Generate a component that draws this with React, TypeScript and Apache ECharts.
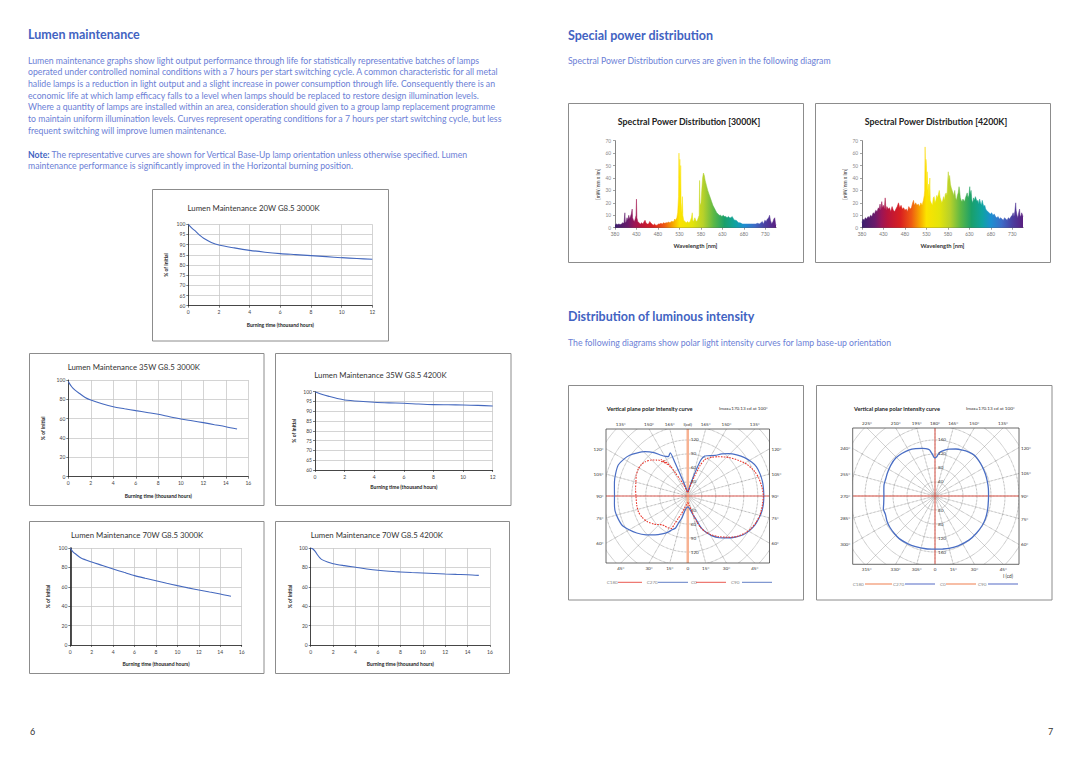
import React, { useEffect, useRef } from 'react';
import * as echarts from 'echarts';

const FONT = 'Lato, "Open Sans", "DejaVu Sans", sans-serif';

// ---------------- Page texts ----------------
const HEAD_LEFT = 'Lumen maintenance';
const PARA = [
  'Lumen maintenance graphs show light output performance through life for statistically representative batches of lamps',
  'operated under controlled nominal conditions with a 7 hours per start switching cycle. A common characteristic for all metal',
  'halide lamps is a reduction in light output and a slight increase in power consumption through life. Consequently there is an',
  'economic life at which lamp efficacy falls to a level when lamps should be replaced to restore design illumination levels.',
  'Where a quantity of lamps are installed within an area, consideration should given to a group lamp replacement programme',
  'to maintain uniform illumination levels. Curves represent operating conditions for a 7 hours per start switching cycle, but less',
  'frequent switching will improve lumen maintenance.',
];
const NOTE_LABEL = 'Note:';
const NOTE = [
  ' The representative curves are shown for Vertical Base-Up lamp orientation unless otherwise specified. Lumen',
  'maintenance performance is significantly improved in the Horizontal burning position.',
];
const HEAD_SPD = 'Special power distribution';
const SPD_INTRO = 'Spectral Power Distribution curves are given in the following diagram';
const HEAD_POLAR = 'Distribution of luminous intensity';
const POLAR_INTRO = 'The following diagrams show polar light intensity curves for lamp base-up orientation';
const PAGE_NUMBERS = ['6', '7'];

// ---------------- Lumen maintenance ----------------
const LM_TITLES = [
  'Lumen Maintenance 20W G8.5 3000K',
  'Lumen Maintenance 35W G8.5 3000K',
  'Lumen Maintenance 35W G8.5 4200K',
  'Lumen Maintenance 70W G8.5 3000K',
  'Lumen Maintenance 70W G8.5 4200K',
];
const LM_X_NAME = 'Burning time (thousand hours)';
const LM_Y_NAME = '% of Initial';
// [thousand hours, % of initial]
const lm20w3000 = [[0, 100], [0.25, 98], [0.5, 96.4], [0.75, 94.6], [1, 93.1], [1.5, 91.1], [2, 89.8], [3, 88.4], [4, 87.2], [5, 86.3], [6, 85.6], [7, 85.1], [8, 84.6], [9, 84.1], [10, 83.6], [11, 83.2], [12, 82.8]];
const lm35w3000 = [[0, 98.3], [0.3, 93], [0.6, 89.5], [1, 86], [1.5, 82], [2, 79.3], [3, 75.5], [4, 72.4], [5, 70.3], [6, 68.3], [7, 66.4], [8, 64.5], [9, 62], [10, 59.7], [11, 57.8], [12, 55.9], [13, 53.8], [14, 51.7], [15, 49.3]];
const lm35w4200 = [[0, 100], [0.5, 98.6], [1, 97.5], [1.5, 96.5], [2, 95.8], [3, 95.1], [4, 94.6], [5, 94.3], [6, 94.1], [7, 93.7], [8, 93.4], [9, 93.3], [10, 93.2], [11, 93], [12, 92.7]];
const lm70w3000 = [[0, 100], [0.25, 96], [0.5, 93.8], [1, 89.7], [2, 85.6], [3, 82], [4, 78.4], [5, 74.9], [6, 71.5], [7, 68.8], [8, 66.3], [9, 63.7], [10, 61.2], [11, 58.9], [12, 56.7], [13, 54.6], [14, 52.6], [15, 50.2]];
const lm70w4200 = [[0, 100], [0.2, 99], [0.4, 96.5], [0.6, 93], [0.8, 90], [1, 88], [1.5, 85.6], [2, 83.8], [3, 81.8], [4, 80.1], [5, 78.4], [6, 77], [7, 76], [8, 75.3], [9, 74.7], [10, 74.2], [11, 73.7], [12, 73.2], [13, 72.8], [14, 72.5], [15, 71.8]];
const LM_DATA = [lm20w3000, lm35w3000, lm35w4200, lm70w3000, lm70w4200];
const LM_X_MAX = [12, 16, 12, 16, 16];
const LM_X_STEP = [2, 2, 2, 2, 2];
const LM_Y_MIN = [60, 0, 60, 0, 0];
const LM_Y_MAX = [100, 100, 100, 100, 100];
const LM_Y_STEP = [5, 20, 5, 20, 20];

// ---------------- Spectral power distribution ----------------
const SPD_TITLES = ['Spectral Power Distribution [3000K]', 'Spectral Power Distribution [4200K]'];
const SPD_X_NAME = 'Wavelength [nm]';
const SPD_Y_NAME = '[mW/nm x lm]';
const SPD_X_MIN = 380;
const SPD_X_MAX = 755;
const SPD_X_STEP = 50;
const SPD_Y_MAX = 70;
const SPD_Y_STEP = 10;
// [nm, mW/nm x lm]
const spd3000 = [[380, 2], [383, 3], [386, 2.5], [389, 3], [392, 2.5], [395, 3], [398, 4], [401, 3.5], [403, 12], [404, 4], [406, 5], [408, 8], [410, 6], [412, 10], [414, 7], [416, 9], [418, 11], [420, 15], [421, 8], [423, 6], [425, 5], [427, 7], [429, 10], [430, 23], [431, 8], [433, 5], [436, 4], [439, 3], [442, 4], [445, 3], [448, 5], [450, 6], [452, 4], [455, 3], [458, 3], [461, 5], [463, 4], [466, 3], [469, 2], [472, 3], [475, 2], [478, 2], [481, 3], [484, 3], [487, 3.5], [490, 3], [493, 4], [496, 3.5], [499, 4], [502, 4], [505, 4.5], [508, 4], [511, 5], [514, 5], [517, 5], [519, 7], [521, 6], [524, 8], [526, 12], [528, 25], [529, 60], [530, 40], [531, 55], [532, 30], [533, 50], [534, 20], [536, 12], [537, 25], [538, 10], [540, 6], [543, 5], [546, 4], [549, 5], [552, 4], [555, 5], [558, 8], [560, 12], [561, 6], [563, 5], [566, 8], [568, 6], [570, 5], [572, 6], [574, 8], [576, 10], [577, 38], [578, 20], [580, 18], [582, 30], [584, 40], [586, 44], [588, 42], [590, 38], [593, 34], [596, 30], [599, 27], [602, 24], [605, 21], [608, 18], [611, 16], [614, 14], [617, 12], [620, 11], [623, 10], [626, 10], [629, 9], [632, 10], [635, 9], [638, 9], [641, 8], [644, 9], [647, 8], [650, 8], [653, 9], [656, 7], [659, 6], [662, 6], [665, 5], [668, 4], [671, 4], [674, 3.5], [677, 3], [680, 3], [684, 3], [688, 3], [692, 3], [696, 3], [700, 3], [704, 3], [708, 3], [712, 3.5], [716, 3], [720, 4], [723, 5], [726, 3], [729, 6], [732, 5], [735, 7], [738, 8], [740, 10], [742, 6], [745, 3], [748, 5], [750, 7], [752, 8], [754, 3], [755, 2]];
const spd4200 = [[380, 4], [382, 7], [385, 6], [388, 8], [391, 7], [394, 9], [397, 8], [400, 10], [403, 9], [406, 12], [409, 11], [412, 14], [415, 13], [418, 16], [420, 15], [422, 19], [424, 14], [426, 21], [428, 16], [430, 18], [432, 15], [434, 24], [436, 14], [438, 17], [441, 15], [444, 16], [447, 13], [450, 17], [453, 14], [456, 13], [459, 15], [462, 17], [465, 20], [468, 16], [471, 18], [474, 15], [477, 16], [480, 14], [483, 15], [486, 13], [489, 17], [492, 15], [495, 16], [498, 20], [500, 22], [502, 18], [505, 20], [508, 18], [511, 19], [514, 17], [517, 20], [520, 18], [523, 22], [525, 26], [526, 30], [527, 65], [528, 45], [529, 55], [530, 50], [531, 35], [532, 45], [533, 30], [535, 35], [536, 25], [538, 40], [539, 22], [541, 20], [544, 18], [546, 24], [548, 25], [550, 20], [552, 22], [554, 26], [556, 24], [558, 27], [560, 30], [562, 24], [564, 22], [566, 20], [568, 22], [570, 25], [572, 22], [574, 27], [576, 28], [578, 26], [580, 40], [581, 45], [582, 38], [584, 42], [586, 35], [588, 32], [590, 30], [592, 28], [594, 26], [596, 30], [598, 24], [600, 22], [602, 26], [604, 28], [606, 33], [607, 31], [609, 24], [611, 22], [613, 21], [615, 23], [617, 22], [619, 21], [621, 24], [623, 26], [625, 28], [627, 24], [629, 26], [631, 33], [632, 27], [634, 30], [636, 22], [638, 20], [640, 24], [642, 22], [644, 25], [646, 23], [648, 21], [650, 22], [652, 19], [654, 23], [656, 20], [658, 18], [660, 22], [662, 19], [664, 17], [666, 18], [668, 15], [670, 14], [673, 13], [676, 12], [679, 11], [682, 12], [685, 10], [688, 11], [691, 9], [694, 8], [697, 9], [700, 7], [703, 8], [706, 7], [709, 6], [712, 8], [715, 7], [718, 6], [721, 8], [724, 7], [727, 9], [730, 10], [732, 12], [734, 9], [736, 13], [738, 20], [739, 14], [741, 10], [743, 8], [745, 12], [747, 15], [748, 10], [750, 9], [752, 12], [754, 10], [755, 9]];
const SPD_DATA = [spd3000, spd4200];
const SPD_COLORS = [
  [0, '#3b1f6e'], [0.08, '#6a1a6a'], [0.12, '#9a1557'], [0.16, '#b8143c'], [0.24, '#d92020'],
  [0.307, '#ee5a12'], [0.36, '#f7a800'], [0.4, '#fce300'], [0.48, '#e4e40a'], [0.547, '#b8d12a'],
  [0.613, '#5cb845'], [0.68, '#1aa06a'], [0.747, '#0fa3a0'], [0.8, '#1c8fd0'], [0.867, '#3c6cc8'],
  [0.933, '#4a3ea0'], [1, '#5a1f80'],
];

// ---------------- Polar intensity ----------------
const POLAR_TITLE = 'Vertical plane polar intensity curve';
const POLAR_IMAX = 'Imax=170.13 cd at 100°';
const POLAR_UNIT = 'I (cd)';
const LEGEND_NAMES = ['C180', 'C270', 'C0', 'C90'];
// label for each 15° spoke, counter-clockwise from the bottom
const POLAR_A_LABELS = ['0', '15°', '30°', '45°', '60°', '75°', '90°', '105°', '120°', '135°', '150°', '165°', 'I(cd)', '165°', '150°', '135°', '120°', '105°', '90°', '75°', '60°', '45°', '30°', '15°'];
const POLAR_B_LABELS = ['0', '15°', '30°', '45°', '60°', '75°', '90°', '105°', '120°', '135°', '150°', '165°', '180°', '195°', '210°', '225°', '240°', '255°', '270°', '285°', '300°', '315°', '330°', '305°'];
const POLAR_A_RINGS = [30, 60, 90, 120];
const POLAR_B_RINGS = [40, 80, 120, 160];
const POLAR_A_MAX = 240;
const POLAR_A_STEP = 30;
const POLAR_B_MAX = 320;
const POLAR_B_STEP = 40;
// [gamma angle in the half plane, cd]
const polarA_C0 = [[0, 14], [6, 16], [10, 22], [15, 35], [19, 58], [22, 72], [26, 85], [31, 97], [37, 109], [44, 123], [50, 136], [57, 146], [63, 153], [69, 157], [75, 160], [82, 161], [90, 162], [97, 160], [104, 157], [110, 153], [118, 144], [125, 133], [133, 121], [142, 107], [148, 98], [153, 90], [155, 86], [158, 71], [161, 45], [165, 25], [170, 12], [180, 8]];
const polarA_C180 = [[0, 14], [6, 16], [10, 20], [15, 28], [20, 42], [23, 52], [25, 65], [27, 78], [32, 80], [37, 81], [42, 83], [50, 94], [58, 103], [65, 108], [72, 111], [80, 111], [90, 111], [98, 113], [105, 115], [112, 119], [119, 121], [124, 120], [129, 117], [135, 109], [139, 102], [141, 99], [143, 92], [144, 97], [145, 86], [146, 92], [147, 80], [148, 86], [149, 72], [150, 76], [152, 55], [155, 40], [160, 25], [165, 15], [170, 10], [180, 8]];
const polarA_C90 = [[0, 23], [5, 25], [10, 30], [15, 40], [20, 55], [23, 75], [27, 88], [31, 99], [37, 112], [44, 125], [50, 136], [55, 145], [61, 152], [67, 157], [73, 160], [78, 162], [84, 163], [90, 163], [96, 163], [101, 163], [107, 162], [113, 160], [118, 155], [124, 147], [130, 137], [136, 126], [141, 116], [146, 105], [150, 100], [154, 96], [157, 93], [160, 82], [162, 60], [164, 40], [167, 25], [172, 14], [180, 8]];
const polarA_C270 = [[0, 23], [5, 25], [10, 30], [15, 49], [19, 62], [21, 74], [25, 80], [28, 87], [34, 98], [40, 109], [47, 122], [54, 135], [60, 145], [66, 154], [72, 157], [78, 159], [84, 158], [90, 157], [96, 158], [101, 160], [108, 162], [114, 163], [120, 158], [125, 152], [130, 143], [136, 132], [142, 118], [147, 104], [151, 97], [154, 94], [156, 97], [158, 100], [159, 80], [160, 58], [162, 38], [165, 24], [170, 14], [180, 8]];
// [angle 0..360, cd]
const polarB = [[0, 152], [8, 153], [15, 155], [25, 157], [38, 159], [48, 159], [58, 159], [66, 158], [73, 156], [80, 154], [90, 153], [98, 154], [105, 155], [113, 157], [122, 159], [129, 161], [136, 162], [143, 158], [149, 153], [156, 147], [163, 140], [168, 134], [173, 127], [176, 118], [178, 111], [180, 109], [182, 112], [183, 117], [185, 125], [187, 133], [191, 138], [195, 141], [202, 146], [209, 151], [218, 154], [226, 156], [235, 154], [244, 151], [251, 149], [258, 149], [264, 147], [270, 146], [278, 148], [284, 152], [290, 151], [298, 155], [305, 157], [312, 158], [320, 159], [330, 157], [339, 155], [350, 153], [360, 152]];

// ---------------- Layout (positions only) ----------------
const LM_LAYOUT = [
  { grid: [188.3, 224.3, 184, 81.4], panel: [152.5, 189.5, 236, 151.5], title: [187.5, 207.5], xName: 19.3, yName: -22.6 },
  { grid: [68.3, 380, 180, 96.7], panel: [29.5, 353.5, 234.5, 152], title: [67.7, 366.7], xName: 19, yName: -25 },
  { grid: [315, 391.7, 177.7, 78.3], panel: [275.5, 353.5, 235.5, 152], title: [314.3, 375], xName: 17.3, yName: -21 },
  { grid: [70.3, 548, 171.4, 97], panel: [29.5, 521.5, 234.5, 152], title: [71, 535.3], xName: 18.7, yName: -22 },
  { grid: [310.7, 548, 179.3, 97], panel: [275.5, 521.5, 234, 152], title: [310.7, 534.7], xName: 18.7, yName: -20.7 },
];
const SPD_LAYOUT = [
  { grid: [615, 140.7, 161, 87], panel: [568.5, 103.5, 235, 159], title: [689, 121] },
  { grid: [862, 140.7, 161, 87], panel: [815.5, 103.5, 235, 159], title: [936, 121] },
];
const POLAR_LAYOUT = [
  { center: [687.75, 496], box: [606, 429, 769.5, 563], panel: [568.5, 385.5, 235, 214.5], title: [606.7, 408.3], imax: [719, 408.3], legendY: 582.3, legendX: [[606.7, 618, 642], [646.7, 658, 688], [691, 696, 726], [731, 742, 772]] },
  { center: [935, 496], box: [852.7, 428, 1019, 564.3], panel: [816.5, 385.5, 235.5, 214.5], title: [854, 408.3], imax: [966, 408.3], legendY: 584, legendX: [[852.7, 865, 892], [893, 905, 935], [940, 946, 976], [978, 988, 1018]] },
];
const POLAR_R_PX = 112;

function txt(text: string, x: number, y: number, o: any = {}) {
  const align = o.align || 'left';
  const va = o.va || 'middle';
  return {
    type: 'text', x, y, z: 110, rotation: o.rot || 0, silent: true,
    style: {
      text, fill: o.fill || '#333', fontSize: o.size || 8, fontFamily: FONT, fontWeight: o.weight || 'normal',
      textAlign: align, textVerticalAlign: va, align, verticalAlign: va, rich: o.rich,
    },
  };
}
function rect(x: number, y: number, w: number, h: number, style: any, z = 110) {
  return { type: 'rect', z, silent: true, shape: { x, y, width: w, height: h }, style };
}
function line(x1: number, y1: number, x2: number, y2: number, style: any, z = 110) {
  return { type: 'line', z, silent: true, shape: { x1, y1, x2, y2 }, style };
}

function buildOption() {
  const grid: any[] = [];
  const xAxis: any[] = [];
  const yAxis: any[] = [];
  const series: any[] = [];
  const g: any[] = [];
  const HEAD = '#4263c2';
  const BODY = '#6b80d6';
  const BODY_SIZE = 8.7;
  const PANEL = { fill: 'none', stroke: '#8c8c8c', lineWidth: 1 };

  // Page texts
  g.push(txt(HEAD_LEFT, 28, 34.3, { size: 12.5, weight: 'bold', fill: HEAD }));
  PARA.forEach((t, i) => g.push(txt(t, 28, 60 + i * 11.7, { size: BODY_SIZE, fill: BODY })));
  g.push(txt('{b|' + NOTE_LABEL + '}' + NOTE[0], 28, 154, { size: BODY_SIZE, fill: BODY, rich: { b: { fontWeight: 'bold', fill: HEAD, fontSize: BODY_SIZE, fontFamily: FONT } } }));
  g.push(txt(NOTE[1], 28, 165.7, { size: BODY_SIZE, fill: BODY }));
  g.push(txt(HEAD_SPD, 568, 35, { size: 12.5, weight: 'bold', fill: HEAD }));
  g.push(txt(SPD_INTRO, 568, 60.7, { size: BODY_SIZE, fill: BODY }));
  g.push(txt(HEAD_POLAR, 568, 316.7, { size: 12.5, weight: 'bold', fill: HEAD }));
  g.push(txt(POLAR_INTRO, 568, 342.3, { size: BODY_SIZE, fill: BODY }));
  g.push(txt(PAGE_NUMBERS[0], 30, 731, { size: 9, fill: '#333' }));
  g.push(txt(PAGE_NUMBERS[1], 1048, 731, { size: 9, fill: '#333' }));

  const tickLabel = { fontSize: 5, color: '#444', fontFamily: FONT };

  // Lumen maintenance charts
  LM_DATA.forEach((data, i) => {
    const L = LM_LAYOUT[i];
    const [gl, gt, gw, gh] = L.grid;
    grid.push({ left: gl, top: gt, width: gw, height: gh, containLabel: false });
    xAxis.push({
      type: 'value', gridIndex: i, min: 0, max: LM_X_MAX[i], interval: LM_X_STEP[i],
      axisLine: { onZero: false, lineStyle: { color: '#222', width: 0.8 } },
      axisTick: { show: true, length: 2, lineStyle: { color: '#222', width: 0.6 } },
      axisLabel: { ...tickLabel, margin: 4 },
      splitLine: { show: true, lineStyle: { color: '#c9c9c9', width: 0.8 } },
    });
    yAxis.push({
      type: 'value', gridIndex: i, min: LM_Y_MIN[i], max: LM_Y_MAX[i], interval: LM_Y_STEP[i],
      axisLine: { show: true, onZero: false, lineStyle: { color: '#222', width: i === 3 ? 1.6 : 0.8 } },
      axisTick: { show: true, length: 2, lineStyle: { color: '#222', width: 0.6 } },
      axisLabel: { ...tickLabel, margin: 3 },
      splitLine: { show: true, lineStyle: { color: '#c9c9c9', width: 0.8 } },
    });
    series.push({
      type: 'line', xAxisIndex: i, yAxisIndex: i, data, smooth: 0.3, symbol: 'none',
      lineStyle: { color: '#4468be', width: 1.1 },
    });
    const [px, py, pw, ph] = L.panel;
    g.push(rect(px, py, pw, ph, PANEL));
    g.push(txt(LM_TITLES[i], L.title[0], L.title[1], { size: 7.8, fill: '#333' }));
    g.push(txt(LM_X_NAME, gl + gw / 2, gt + gh + L.xName, { size: 5, weight: 'bold', fill: '#222', align: 'center' }));
    g.push(txt(LM_Y_NAME, gl + L.yName, gt + gh / 2, { size: 5, weight: 'bold', fill: '#222', align: 'center', rot: Math.PI / 2 }));
  });

  // Spectral power distribution charts
  SPD_DATA.forEach((data, j) => {
    const i = LM_DATA.length + j;
    const L = SPD_LAYOUT[j];
    const [gl, gt, gw, gh] = L.grid;
    grid.push({ left: gl, top: gt, width: gw, height: gh, containLabel: false });
    xAxis.push({
      type: 'value', gridIndex: i, min: SPD_X_MIN, max: SPD_X_MAX, interval: SPD_X_STEP,
      axisLine: { onZero: false, lineStyle: { color: '#333', width: 0.8 } },
      axisTick: { show: true, length: 2, lineStyle: { color: '#555', width: 0.6 } },
      axisLabel: { fontSize: 4.8, color: '#777', fontFamily: FONT, margin: 4, showMaxLabel: false },
      splitLine: { show: false },
    });
    yAxis.push({
      type: 'value', gridIndex: i, min: 0, max: SPD_Y_MAX, interval: SPD_Y_STEP,
      axisLine: { show: true, onZero: false, lineStyle: { color: '#666', width: 0.8 } },
      axisTick: { show: true, length: 2, lineStyle: { color: '#666', width: 0.6 } },
      axisLabel: { fontSize: 4.8, color: '#888', fontFamily: FONT, margin: 4 },
      splitLine: { show: false },
    });
    const grad = () => new echarts.graphic.LinearGradient(0, 0, 1, 0, SPD_COLORS.map(([o, c]) => ({ offset: o as number, color: c as string })));
    series.push({
      type: 'line', xAxisIndex: i, yAxisIndex: i, data, symbol: 'none', smooth: false,
      lineStyle: { width: 0.5, color: grad() },
      areaStyle: { color: grad(), opacity: 1 },
    });
    const [px, py, pw, ph] = L.panel;
    g.push(rect(px, py, pw, ph, PANEL));
    g.push(txt(SPD_TITLES[j], L.title[0], L.title[1], { size: 8.8, weight: 'bold', fill: '#222', align: 'center' }));
    g.push(txt(SPD_X_NAME, gl + gw / 2, gt + gh + 18, { size: 5.8, weight: 'bold', fill: '#333', align: 'center' }));
    g.push(txt(SPD_Y_NAME, gl - 16.7, gt + gh / 2, { size: 5, fill: '#333', align: 'center', rot: Math.PI / 2 }));
  });

  // Polar charts
  const polar: any[] = [];
  const angleAxis: any[] = [];
  const radiusAxis: any[] = [];
  const dotted = { color: '#7a7a7a', type: 'dotted', width: 0.7 };
  const polarMax = [POLAR_A_MAX, POLAR_B_MAX];
  const polarStep = [POLAR_A_STEP, POLAR_B_STEP];
  POLAR_LAYOUT.forEach((P, k) => {
    const rings = k === 0 ? POLAR_A_RINGS : POLAR_B_RINGS;
    const ringMax = rings[rings.length - 1];
    polar.push({ center: P.center, radius: POLAR_R_PX });
    angleAxis.push({
      polarIndex: k, type: 'value', min: 0, max: 360, interval: 15, startAngle: 270, clockwise: false,
      axisLine: { show: false }, axisTick: { show: false }, axisLabel: { show: false },
      splitLine: { show: true, lineStyle: dotted },
    });
    radiusAxis.push({
      polarIndex: k, type: 'value', min: 0, max: polarMax[k], interval: polarStep[k],
      axisLine: { show: false }, axisTick: { show: false },
      axisLabel: {
        show: true, fontSize: 4.6, color: '#444', fontFamily: FONT, margin: 3, z: 3,
        formatter: (v: number) => (v > 0 && v <= ringMax ? String(v) : ''),
      },
      splitLine: { show: true, lineStyle: dotted },
    });
    const [cx, cy] = P.center;
    const [bx0, by0, bx1, by1] = P.box;
    // covers clipping the rings to the box
    const W = { fill: '#ffffff' };
    const R = 128;
    g.push(rect(cx - R, cy - R, 2 * R, by0 - (cy - R), W, 100));
    g.push(rect(cx - R, by1, 2 * R, cy + R - by1, W, 100));
    g.push(rect(cx - R, by0 - 1, bx0 - (cx - R), by1 - by0 + 2, W, 100));
    g.push(rect(bx1, by0 - 1, cx + R - bx1, by1 - by0 + 2, W, 100));
    g.push(rect(bx0, by0, bx1 - bx0, by1 - by0, { fill: 'none', stroke: '#444', lineWidth: 0.8 }));
    const [px, py, pw, ph] = P.panel;
    g.push(rect(px, py, pw, ph, PANEL));
    // centre lines
    if (k === 0) {
      g.push(line(cx, by0, cx, by1, { stroke: '#f7b293', lineWidth: 2.5 }, 1));
      g.push(line(bx0, cy, bx1, cy, { stroke: '#e8463c', lineWidth: 0.8 }, 1));
    } else {
      g.push(line(cx, by0, cx, by1, { stroke: '#e25a4e', lineWidth: 1 }, 1));
      g.push(line(bx0, cy, bx1, cy, { stroke: '#e25a4e', lineWidth: 1 }, 1));
    }
    // edge labels
    const labels = k === 0 ? POLAR_A_LABELS : POLAR_B_LABELS;
    labels.forEach((lab, idx) => {
      const a = (idx * 15 * Math.PI) / 180;
      const dx = Math.sin(a);
      const dy = Math.cos(a);
      const hw = dx > 0 ? bx1 - cx : cx - bx0;
      const hh = dy > 0 ? by1 - cy : cy - by0;
      const tx = Math.abs(dx) > 1e-9 ? hw / Math.abs(dx) : Infinity;
      const ty = Math.abs(dy) > 1e-9 ? hh / Math.abs(dy) : Infinity;
      if (ty <= tx) {
        const x = cx + dx * ty;
        const y = dy > 0 ? by1 + 5 : by0 - 5;
        g.push(txt(lab, x, y, { size: 4.6, fill: '#333', align: 'center' }));
      } else {
        const y = cy + dy * tx;
        if (dx > 0) g.push(txt(lab, bx1 + 2, y, { size: 4.6, fill: '#333', align: 'left' }));
        else g.push(txt(lab, bx0 - 2.5, y, { size: 4.6, fill: '#333', align: 'right' }));
      }
    });
    // ring labels above the centre
    const scale = POLAR_R_PX / polarMax[k];
    rings.forEach((v) => {
      g.push(txt(String(v), cx + 3, cy - v * scale - 1, { size: 4.6, fill: '#444' }));
    });
    g.push(txt(POLAR_TITLE, P.title[0], P.title[1], { size: 5.6, weight: 'bold', fill: '#222' }));
    g.push(txt(POLAR_IMAX, P.imax[0], P.imax[1], { size: 4.6, fill: '#333' }));
    // legend
    const legColors = k === 0 ? ['#e8463c', '#5070c0', '#e8463c', '#5070c0'] : ['#f4a888', '#8d9bd8', '#f4a888', '#8d9bd8'];
    LEGEND_NAMES.forEach((n, li) => {
      const [tx0, lx0, lx1] = P.legendX[li];
      g.push(txt(n, tx0, P.legendY, { size: 4.6, fill: '#888' }));
      g.push(line(lx0, P.legendY, lx1, P.legendY, { stroke: legColors[li], lineWidth: k === 0 ? 0.9 : 1.5 }));
    });
    if (k === 1) g.push(txt(POLAR_UNIT, 1008, 576, { size: 4.8, fill: '#333', align: 'center' }));
  });

  const toPolar = (pts: number[][]) => pts.map(([a, v]) => [v, a]);
  const mirror = (pts: number[][]) => pts.slice().reverse().map(([a, v]) => [v, 360 - a]);
  series.push({
    type: 'line', coordinateSystem: 'polar', polarIndex: 0, symbol: 'none', smooth: 0.2,
    data: [...toPolar(polarA_C90), ...mirror(polarA_C270)],
    lineStyle: { color: '#4a6ec4', width: 1.2 },
  });
  series.push({
    type: 'line', coordinateSystem: 'polar', polarIndex: 0, symbol: 'none', smooth: 0.2,
    data: [...toPolar(polarA_C0), ...mirror(polarA_C180)],
    lineStyle: { color: '#e8352c', width: 1.1, type: [1.6, 1.2] },
  });
  series.push({
    type: 'line', coordinateSystem: 'polar', polarIndex: 1, symbol: 'none', smooth: 0.3,
    data: toPolar(polarB),
    lineStyle: { color: '#4a6ec4', width: 1.3 },
  });

  return {
    animation: false,
    backgroundColor: '#ffffff',
    grid, xAxis, yAxis, polar, angleAxis, radiusAxis, series,
    graphic: { elements: g },
  };
}

export default function App() {
  const ref = useRef<HTMLDivElement>(null);
  useEffect(() => {
    if (!ref.current) return;
    const chart = echarts.init(ref.current, undefined, { renderer: 'svg', width: 1080, height: 763 });
    chart.setOption(buildOption() as any);
    return () => chart.dispose();
  }, []);
  return <div ref={ref} style={{ position: 'absolute', left: 0, top: 0, width: 1080, height: 763, background: '#fff' }} />;
}
